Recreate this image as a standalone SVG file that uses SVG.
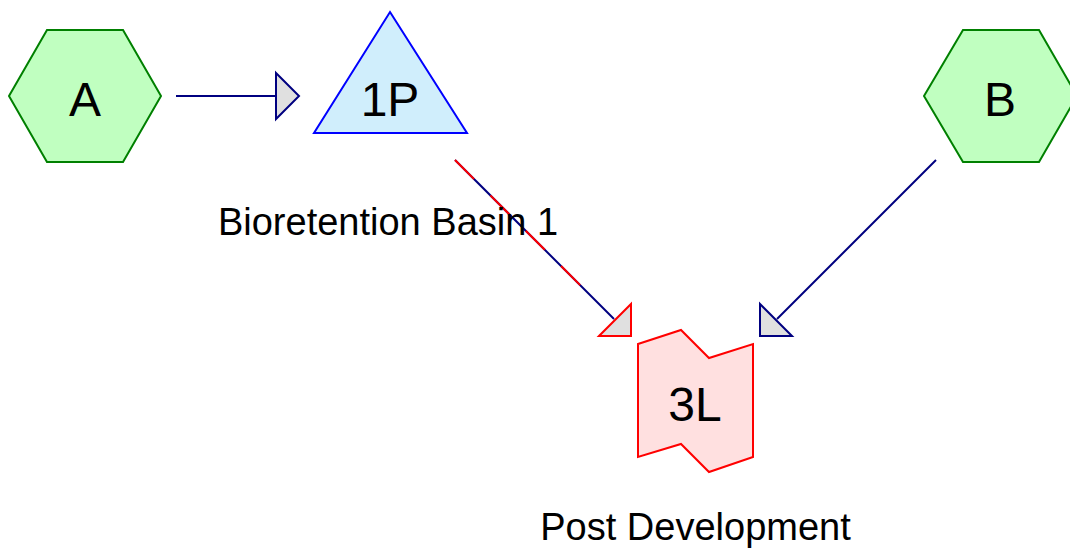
<svg xmlns="http://www.w3.org/2000/svg" width="1070" height="551" viewBox="0 0 1070 551">
<style>
.hex{fill:#c0ffc0;stroke:#008000;stroke-width:2}
.pond{fill:#d0eefc;stroke:#0000ff;stroke-width:2}
.link{fill:#ffe0e0;stroke:#ff0000;stroke-width:2}
.lbl{font-family:"Liberation Sans",Arial,sans-serif;font-size:48px;fill:#000;text-anchor:middle}
.cap{font-family:"Liberation Sans",Arial,sans-serif;font-size:38px;fill:#000;text-anchor:middle}
.ln{fill:none;stroke:#000080;stroke-width:2}
.rd{fill:none;stroke:#ff0000;stroke-width:2;stroke-dasharray:27 23}
.ah{fill:#e0e0e0;stroke:#000080;stroke-width:2;stroke-linejoin:miter}
.ahr{fill:#e0e0e0;stroke:#ff0000;stroke-width:2;stroke-linejoin:miter}
</style>
<rect width="1070" height="551" fill="#ffffff"/>
<g id="connectors">
<line class="ln" x1="176" y1="96" x2="277" y2="96"/>
<polygon class="ah" points="276,73 299,96 276,119"/>
<line class="ln" x1="455" y1="160" x2="614" y2="319"/>
<line class="rd" x1="455" y1="160" x2="582" y2="287"/>
<polygon class="ahr" points="599,336 631,304 631,336"/>
<line class="ln" x1="936" y1="160" x2="777" y2="319"/>
<polygon class="ah" points="760,304 760,336 792,336"/>
</g>
<g id="node-A">
<polygon class="hex" points="9,96 47,30 123,30 161,96 123,162 47,162"/>
<text class="lbl" x="85" y="115.5">A</text>
</g>
<g id="node-1P">
<polygon class="pond" points="390,12 467,133 314,133"/>
<text class="lbl" x="390" y="115.5">1P</text>
<text class="cap" x="388" y="234.5">Bioretention Basin 1</text>
</g>
<g id="node-B">
<polygon class="hex" points="924,96 963,30 1039,30 1077,96 1039,162 963,162"/>
<text class="lbl" x="1000" y="116">B</text>
</g>
<g id="node-3L">
<polygon class="link" points="638,344 681,330 709,358 753,344 753,457 709,472 681,444 638,457"/>
<text class="lbl" x="695" y="421">3L</text>
<text class="cap" x="695.5" y="540">Post Development</text>
</g>
</svg>
